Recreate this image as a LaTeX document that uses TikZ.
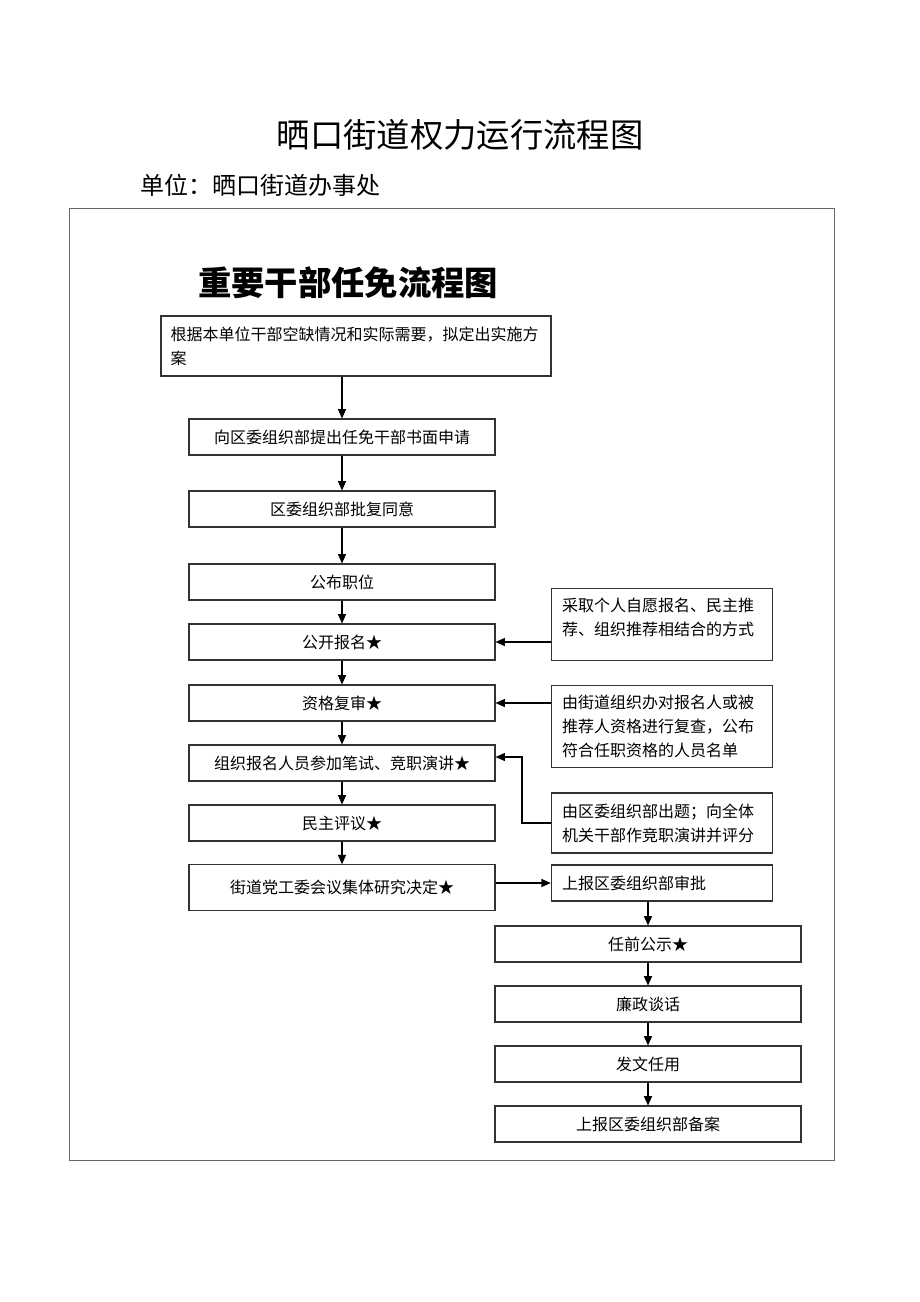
\documentclass[tikz,border=0pt]{standalone}
\usepackage{fontspec}
\setmainfont{Noto Sans CJK SC}
\usepackage{tikz}
\usetikzlibrary{arrows.meta,calc,positioning}

\begin{document}
\begin{tikzpicture}[x=0.75pt,y=-0.75pt,-,line width=0.8pt,
                    >={Triangle[length=7pt,width=6pt]},
                    main node/.style={rectangle,draw=black!80,minimum width=229.5pt,minimum height=27pt,
                                      inner sep=0pt,font=\fontsize{12}{18}\selectfont},
                    side node/.style={rectangle,draw=black!80,text width=150pt,inner xsep=8pt,inner ysep=0pt,
                                      align=left,font=\fontsize{12}{18}\selectfont}]

  \useasboundingbox (0,0) rectangle (920,1302);

  \node (title) at (460,135) {\fontsize{25}{30}\selectfont 晒口街道权力运行流程图};
  \node[anchor=west,inner sep=0pt] (unit) at (140,185) {\fontsize{18}{22}\selectfont 单位：晒口街道办事处};
  \draw[draw=black!60,line width=0.75pt] (69,208) rectangle (834,1160);
  \node (sub) at (348,283) {\fontsize{25}{30}\selectfont\bfseries 重要干部任免流程图};

  \node[main node,minimum width=292.5pt,minimum height=45pt,text width=278pt,inner xsep=7pt,align=left] (1) at (356,346)
    {根据本单位干部空缺情况和实际需要，拟定出实施方\\案};
  \node[main node] (2) at (342,437) {向区委组织部提出任免干部书面申请};
  \node[main node] (3) at (342,509) {区委组织部批复同意};
  \node[main node] (4) at (342,582) {公布职位};
  \node[main node] (5) at (342,642) {公开报名★};
  \node[main node] (6) at (342,703) {资格复审★};
  \node[main node] (7) at (342,763) {组织报名人员参加笔试、竞职演讲★};
  \node[main node] (8) at (342,823) {民主评议★};
  \node[main node,minimum height=34pt] (9) at (342,887.5) {街道党工委会议集体研究决定★};

  \node[side node,anchor=north,inner ysep=7pt,minimum height=54pt] (a) at (662,588) {采取个人自愿报名、民主推\\荐、组织推荐相结合的方式\\[-6pt]\mbox{}};
  \node[side node,minimum height=62pt] (b) at (662,726.5) {由街道组织办对报名人或被\\推荐人资格进行复查，公布\\符合任职资格的人员名单};
  \node[side node,minimum height=45pt] (c) at (662,823) {由区委组织部出题；向全体\\机关干部作竞职演讲并评分};
  \node[side node,minimum height=27pt] (d) at (662,883) {上报区委组织部审批};

  \node[main node] (10) at (648,944) {任前公示★};
  \node[main node] (11) at (648,1004) {廉政谈话};
  \node[main node] (12) at (648,1064) {发文任用};
  \node[main node] (13) at (648,1124) {上报区委组织部备案};

  \coordinate (bend) at (522,757);

  \draw[->] (1.south -| 2.north) -- (2.north);
  \foreach \i/\j in {2/3,3/4,4/5,5/6,6/7,7/8,8/9,10/11,11/12,12/13}
    \draw[->] (\i.south) -- (\j.north);

  \draw[->] (a.west |- 5.east) -- (5.east);
  \draw[->] (b.west |- 6.east) -- (6.east);
  \draw[->] (c.west) -| (bend) -- (bend -| 7.east);
  \draw[->] (9.east |- d.west) -- (d.west);
  \draw[->] (d.south -| 10.north) -- (10.north);
\end{tikzpicture}
\end{document}
